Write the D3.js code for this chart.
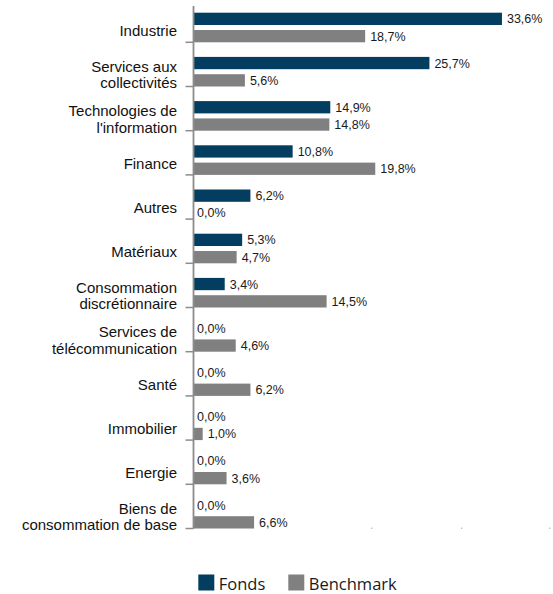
<!DOCTYPE html>
<html>
<head>
<meta charset="utf-8">
<script src="https://cdn.jsdelivr.net/npm/d3@7"></script>
<style>
  body { margin: 0; background: #fff; }
  svg { display: block; }
</style>
</head>
<body>
<div id="chart"></div>
<script>
// data
var categories = ["Industrie", "Services aux\ncollectivités", "Technologies de\nl'information",
  "Finance", "Autres", "Matériaux", "Consommation\ndiscrétionnaire",
  "Services de\ntélécommunication", "Santé", "Immobilier", "Energie",
  "Biens de\nconsommation de base"];
var fonds     = [33.6, 25.7, 14.9, 10.8, 6.2, 5.3, 3.4, 0.0, 0.0, 0.0, 0.0, 0.0];
var benchmark = [18.7, 5.6, 14.8, 19.8, 0.0, 4.7, 14.5, 4.6, 6.2, 1.0, 3.6, 6.6];
var seriesNames = ["Fonds", "Benchmark"];
var gridTicks = [19.4, 29.2, 38.8];

var colors = {"Fonds": "#033d5f", "Benchmark": "#808080"};

var W = 553, H = 594;
var svg = d3.select("#chart").append("svg")
  .attr("width", W).attr("height", H);

var x = d3.scaleLinear().domain([0, 40]).range([193.5, 193.5 + 40 * 9.18]);
var y = d3.scaleBand().domain(categories).range([-1.9, 528.5]);
var sub = d3.scaleBand().domain(seriesNames).range([14.6, y.step()]).paddingInner(0.29);

var rows = categories.map(function(c, i){
  return {cat: c, vals: [{s: "Fonds", v: fonds[i]}, {s: "Benchmark", v: benchmark[i]}]};
});

function fmt(v){ return v.toFixed(1).replace(".", ",") + "%"; }

// faint x tick dots at the bottom
svg.selectAll(".gdot").data(gridTicks).enter().append("rect")
  .attr("class", "gdot")
  .attr("x", function(d){ return x(d) - 0.5; })
  .attr("y", y.range()[1] - 1)
  .attr("width", 1.2).attr("height", 1.5)
  .attr("fill", "#b8b8b8");

var g = svg.selectAll(".row").data(rows).enter().append("g")
  .attr("class", "row")
  .attr("transform", function(d){ return "translate(0," + y(d.cat) + ")"; });

g.selectAll(".bar").data(function(d){ return d.vals; }).enter().append("rect")
  .attr("class", "bar")
  .attr("x", x(0))
  .attr("y", function(d){ return sub(d.s); })
  .attr("width", function(d){ return x(d.v) - x(0); })
  .attr("height", sub.bandwidth())
  .attr("fill", function(d){ return colors[d.s]; });

g.selectAll(".val").data(function(d){ return d.vals; }).enter().append("text")
  .attr("class", "val")
  .attr("x", function(d){ return x(d.v) + (d.v > 0 ? 5 : 3.5); })
  .attr("y", function(d){ return sub(d.s) + sub.bandwidth() / 2; })
  .attr("dy", "0.36em")
  .attr("font-family", "'Liberation Sans', Arial, sans-serif")
  .attr("font-size", 12.5)
  .attr("fill", "#1a1a1a")
  .text(function(d){ return fmt(d.v); });

// category labels
g.each(function(d){
  var lines = d.cat.split("\n");
  var cy = y.step() - 11.7;
  var t = d3.select(this).append("text")
    .attr("text-anchor", "end")
    .attr("font-family", "'Liberation Sans', Arial, sans-serif")
    .attr("font-size", 15)
    .attr("fill", "#111");
  lines.forEach(function(l, j){
    t.append("tspan")
      .attr("x", 177)
      .attr("y", cy + (j - (lines.length - 1) / 2) * 16.5)
      .attr("dy", "0.36em")
      .text(l);
  });
});

// axis line and ticks
svg.append("line")
  .attr("x1", x(0)).attr("x2", x(0))
  .attr("y1", 6).attr("y2", y.range()[1])
  .attr("stroke", "#8c8c8c").attr("stroke-width", 1.8);

svg.selectAll(".tick").data(categories).enter().append("line")
  .attr("class", "tick")
  .attr("x1", x(0) - 8).attr("x2", x(0))
  .attr("y1", function(d){ return y(d) + y.step(); })
  .attr("y2", function(d){ return y(d) + y.step(); })
  .attr("stroke", "#8c8c8c").attr("stroke-width", 1.5);

// legend
var legX = [198.3, 288.3];
var leg = svg.selectAll(".leg").data(seriesNames).enter().append("g")
  .attr("class", "leg")
  .attr("transform", function(d, i){ return "translate(" + legX[i] + ",574.5)"; });
leg.append("rect")
  .attr("width", 16).attr("height", 16)
  .attr("fill", function(d){ return colors[d]; });
leg.append("text")
  .attr("x", 20.5).attr("y", 15.5)
  .attr("font-family", "'Open Sans', sans-serif")
  .attr("font-size", 16.5)
  .attr("fill", "#1a1a1a")
  .text(function(d){ return d; });
</script>
</body>
</html>
